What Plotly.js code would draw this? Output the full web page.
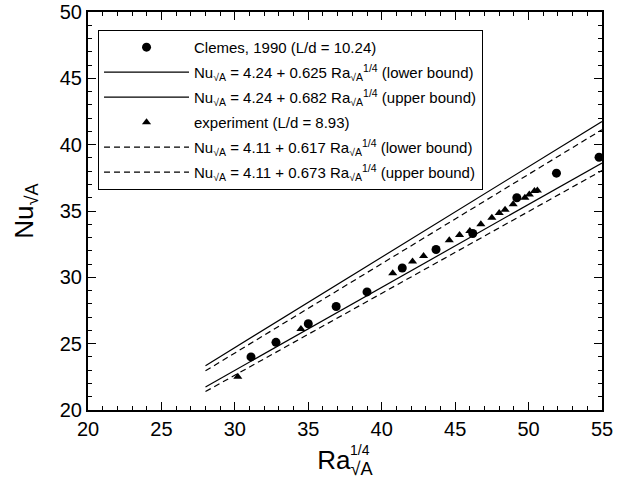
<!DOCTYPE html>
<html>
<head>
<meta charset="utf-8">
<script src="https://cdn.plot.ly/plotly-3.0.1.min.js"></script>
<style>html,body{margin:0;padding:0;background:#fff;}#chart{width:627px;height:481px;}</style>
</head>
<body>
<div id="chart"></div>
<script>
// Clemes, 1990 data (L/d = 10.24)
var clemesX = [31.1, 32.8, 35.0, 36.9, 39.0, 41.4, 43.7, 46.2, 49.2, 51.9, 54.8];
var clemesY = [24.0, 25.1, 26.5, 27.8, 28.9, 30.7, 32.1, 33.3, 36.0, 37.85, 39.05];
// experiment data (L/d = 8.93)
var expX = [30.2, 34.5, 40.75, 42.1, 42.85, 44.6, 45.3, 46.0, 46.75, 47.5, 48.0, 48.4, 48.95, 49.75, 50.05, 50.4, 50.6];
var expY = [22.5, 26.1, 30.3, 31.2, 31.6, 32.8, 33.2, 33.5, 34.0, 34.5, 34.85, 35.1, 35.5, 36.0, 36.25, 36.5, 36.55];
// bound lines (end points)
var lineX = [28, 55];
var clemesLowerY = [21.74, 38.62];
var clemesUpperY = [23.34, 41.75];
var expLowerY = [21.39, 38.05];
var expUpperY = [22.95, 41.13];
// labels
var names = [
  "Clemes, 1990 (L/d = 10.24)",
  "Nu<sub>√A</sub> = 4.24 + 0.625 Ra<sub>√A</sub><sup>1/4</sup> (lower bound)",
  "Nu<sub>√A</sub> = 4.24 + 0.682 Ra<sub>√A</sub><sup>1/4</sup> (upper bound)",
  "experiment (L/d = 8.93)",
  "Nu<sub>√A</sub> = 4.11 + 0.617 Ra<sub>√A</sub><sup>1/4</sup> (lower bound)",
  "Nu<sub>√A</sub> = 4.11 + 0.673 Ra<sub>√A</sub><sup>1/4</sup> (upper bound)"
];
var xTicks = [20, 25, 30, 35, 40, 45, 50, 55];
var yTicks = [20, 25, 30, 35, 40, 45, 50];
var xTitle = "Ra<sub>√A</sub>";
var xTitleSup = "1/4";
var yTitle = "Nu<sub>√A</sub>";

var FONT = "Liberation Sans, Arial, Helvetica, sans-serif";
var traces = [
  {x: clemesX, y: clemesY, mode: "markers", name: names[0], legendgroup: "a",
   marker: {symbol: "circle", size: 9, color: "#000"}},
  {x: lineX, y: clemesLowerY, mode: "lines", name: names[1], legendgroup: "b",
   line: {color: "#000", width: 1.2}},
  {x: lineX, y: clemesUpperY, mode: "lines", name: names[2], legendgroup: "c",
   line: {color: "#000", width: 1.2}},
  {x: expX, y: expY, mode: "markers", name: names[3], legendgroup: "d",
   marker: {symbol: "triangle-up", size: 8, color: "#000"}},
  {x: lineX, y: expLowerY, mode: "lines", name: names[4], legendgroup: "e",
   line: {color: "#000", width: 1.2, dash: "6px,4px"}},
  {x: lineX, y: expUpperY, mode: "lines", name: names[5], legendgroup: "f",
   line: {color: "#000", width: 1.2, dash: "6px,4px"}}
];

var axisCommon = {
  showgrid: false, zeroline: false, showline: true, linecolor: "#000", linewidth: 2,
  mirror: "allticks", ticks: "inside", ticklen: 8, tickwidth: 1, tickcolor: "#000",
  tickfont: {family: FONT, size: 20, color: "#000"},
  minor: {ticks: "inside", dtick: 1, ticklen: 4, tickwidth: 1, tickcolor: "#000"}
};

var layout = {
  width: 627, height: 481,
  margin: {l: 88, r: 25, t: 12, b: 71},
  paper_bgcolor: "#fff", plot_bgcolor: "#fff",
  font: {family: FONT, color: "#000"},
  showlegend: true,
  legend: {
    x: 0.0195, y: 0.955, xanchor: "left", yanchor: "top",
    bgcolor: "#fff", bordercolor: "#000", borderwidth: 1,
    font: {family: FONT, size: 15, color: "#000"},
    tracegroupgap: 2.5, itemwidth: 85
  },
  xaxis: Object.assign({}, axisCommon, {
    range: [20, 55], tickvals: xTicks, ticktext: xTicks.map(String),
    title: {text: xTitle, font: {family: FONT, size: 26, color: "#000"}, standoff: 12}
  }),
  yaxis: Object.assign({}, axisCommon, {
    range: [20, 50], tickvals: yTicks, ticktext: yTicks.map(String),
    title: {text: yTitle, font: {family: FONT, size: 26, color: "#000"}, standoff: 19}
  }),
  annotations: [
    {text: xTitleSup, xref: "paper", yref: "paper", x: 0.505, y: -0.1,
     xanchor: "left", yanchor: "middle", showarrow: false,
     font: {family: FONT, size: 14, color: "#000"}}
  ]
};

Plotly.newPlot("chart", traces, layout, {displayModeBar: false, staticPlot: true});
</script>
</body>
</html>
